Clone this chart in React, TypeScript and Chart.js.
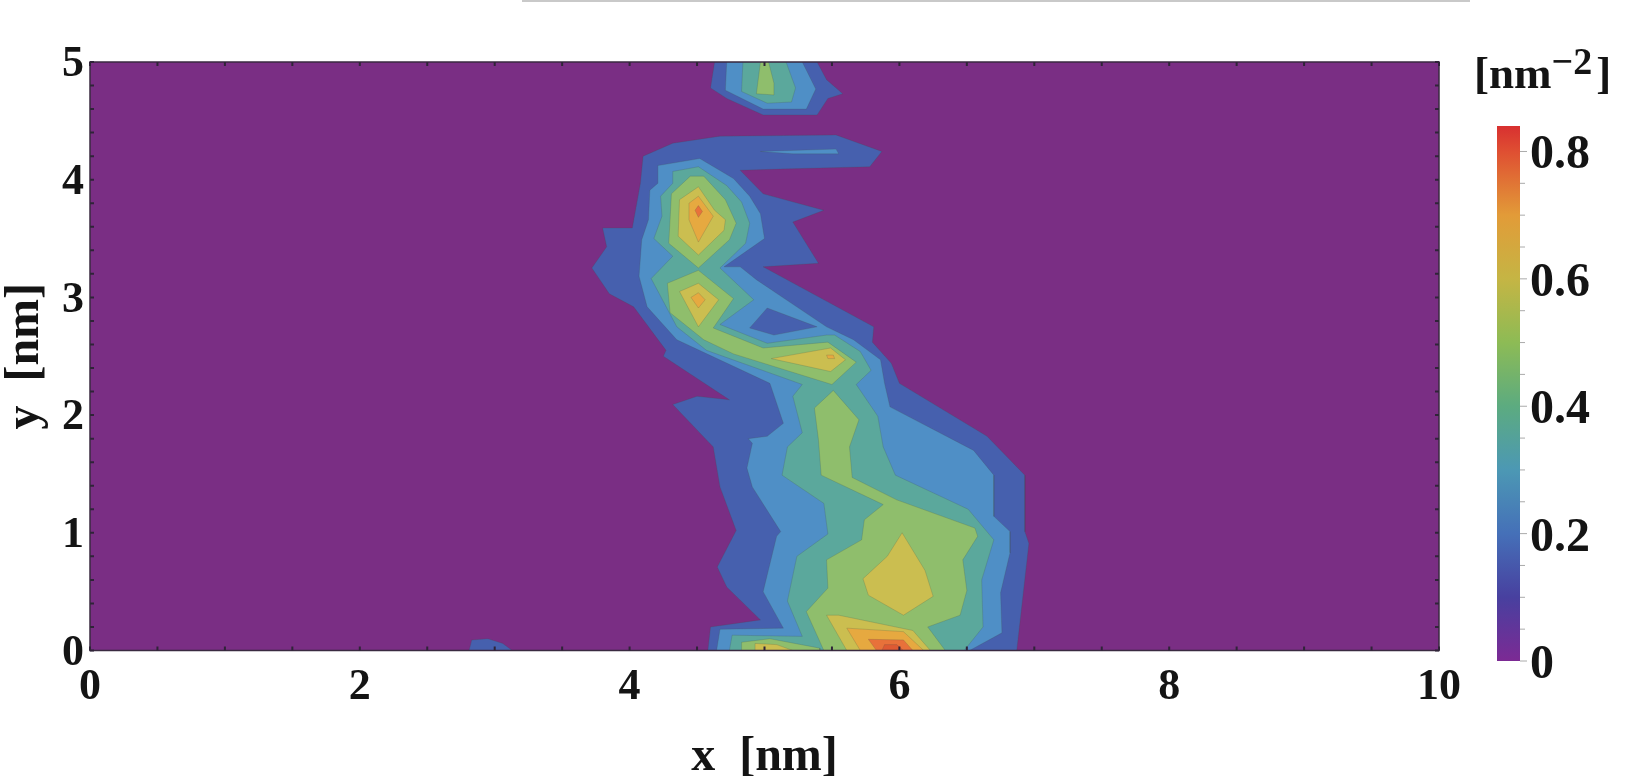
import React, { useEffect, useRef } from "react";
import { Chart, registerables } from "chart.js";

Chart.register(...registerables);

type P = [number, number];

const xTicksMinor = [0, 0.5, 1, 1.5, 2, 2.5, 3, 3.5, 4, 4.5, 5, 5.5, 6, 6.5, 7, 7.5, 8, 8.5, 9, 9.5, 10];
const yTicksMinor = [0, 0.2, 0.4, 0.6, 0.8, 1, 1.2, 1.4, 1.6, 1.8, 2, 2.2, 2.4, 2.6, 2.8, 3, 3.2, 3.4, 3.6, 3.8, 4, 4.2, 4.4, 4.6, 4.8, 5];
const barTicksMinor = [0, 0.05, 0.1, 0.15, 0.2, 0.25, 0.3, 0.35, 0.4, 0.45, 0.5, 0.55, 0.6, 0.65, 0.7, 0.75, 0.8];
const barMax = 0.84;

const levelColors = ["#7a2e84", "#4660ae", "#4f8fc6", "#5ba89c", "#8fbe6c", "#cbbe50", "#e6a940", "#e8713a", "#de5a33"];

const domain: P[] = [[0, 0], [10, 0], [10, 5], [0, 5]];

const l1Top: P[] = [[4.63, 5], [4.6, 4.78], [4.72, 4.69], [4.99, 4.55], [5.39, 4.55], [5.47, 4.69], [5.58, 4.73], [5.46, 4.85], [5.39, 5]];
const l1Speck: P[] = [[2.81, 0], [2.83, 0.09], [2.95, 0.1], [3.06, 0.06], [3.13, 0]];
const l1Main: P[] = [
  [4.32, 4.31], [4.67, 4.37], [5.53, 4.38], [5.87, 4.24], [5.78, 4.11], [5.11, 4.09], [4.82, 4.08], [4.99, 3.88], [5.44, 3.74], [5.21, 3.64], [5.4, 3.29], [4.99, 3.26],
  [5.81, 2.75], [5.8, 2.62], [5.94, 2.44], [6, 2.27], [6.65, 1.82], [6.93, 1.49], [6.93, 1.01], [6.96, 0.91], [6.87, 0],
  [4.58, 0], [4.6, 0.2], [4.97, 0.26], [4.72, 0.54], [4.65, 0.71], [4.79, 1.02], [4.67, 1.39], [4.62, 1.73], [4.32, 2.09], [4.5, 2.16], [4.74, 2.13], [4.25, 2.5],
  [4.27, 2.55], [4.03, 2.92], [3.85, 3.03], [3.72, 3.25], [3.83, 3.43], [3.8, 3.59], [4.02, 3.59], [4.08, 3.97], [4.1, 4.2],
];

const l2Top: P[] = [[4.72, 5], [4.71, 4.76], [4.99, 4.6], [5.31, 4.6], [5.38, 4.77], [5.28, 5]];
const l2Main: P[] = [
  [4.21, 4.12], [4.52, 4.18], [4.77, 4.01], [4.89, 3.86], [4.97, 3.71], [5, 3.5], [4.7, 3.26], [4.82, 3.26], [4.94, 3.15], [5.46, 2.75], [5.66, 2.64], [5.86, 2.47], [5.89, 2.27], [5.93, 2.07],
  [6.55, 1.7], [6.7, 1.49], [6.7, 1.14], [6.82, 1.01], [6.82, 0.83], [6.75, 0.49], [6.76, 0.15], [6.52, 0],
  [4.645, 0], [4.67, 0.18], [5.14, 0.19], [4.99, 0.5], [5.09, 0.97], [5.12, 1.01], [4.91, 1.39], [4.87, 1.55], [4.91, 1.76], [4.88, 1.8], [5.02, 1.82], [5.14, 1.93], [5.04, 2.27],
  [4.35, 2.64], [4.13, 2.92], [4.07, 3.18], [4.09, 3.49], [4.14, 3.66], [4.15, 3.91], [4.21, 3.97],
];
const l1Hole: P[] = [[5.02, 2.91], [5.39, 2.75], [5.07, 2.68], [4.89, 2.74]];
const l2Streak: P[] = [[4.97, 4.24], [5.53, 4.26], [5.55, 4.22], [5.21, 4.22]];

const l3Top: P[] = [[4.84, 5], [4.83, 4.75], [5.02, 4.65], [5.2, 4.66], [5.23, 4.78], [5.16, 5]];
const l3Main: P[] = [
  [4.32, 4.07], [4.51, 4.11], [4.72, 3.95], [4.83, 3.81], [4.89, 3.63], [4.86, 3.46], [4.67, 3.25], [4.92, 2.98], [4.67, 2.77], [5.02, 2.61], [5.46, 2.68], [5.52, 2.68], [5.71, 2.54], [5.79, 2.38], [5.68, 2.26], [5.84, 1.99], [5.88, 1.73], [5.97, 1.49],
  [6.51, 1.2], [6.7, 0.94], [6.61, 0.6], [6.62, 0.2], [6.48, 0],
  [4.74, 0], [4.76, 0.13], [5.28, 0.12], [5.17, 0.42], [5.24, 0.8], [5.47, 0.99], [5.44, 1.25], [5.13, 1.49], [5.17, 1.73], [5.28, 1.85], [5.21, 2.16], [5.28, 2.26],
  [4.57, 2.55], [4.35, 2.75], [4.16, 3.16], [4.32, 3.35], [4.18, 3.5], [4.24, 3.69], [4.23, 3.86], [4.32, 3.97],
];

const l4Top: P[] = [[4.97, 5], [4.94, 4.73], [5.07, 4.72], [5.07, 4.82], [5.03, 5]];
const l4Upper: P[] = [[4.31, 3.88], [4.45, 4.03], [4.55, 4.03], [4.71, 3.83], [4.79, 3.63], [4.74, 3.49], [4.51, 3.25], [4.29, 3.46], [4.3, 3.66]];
const l4Tail: P[] = [[4.51, 3.23], [4.77, 2.99], [4.62, 2.74], [4.99, 2.57], [5.47, 2.62], [5.68, 2.45], [5.5, 2.26], [4.77, 2.52], [4.55, 2.64], [4.3, 2.87], [4.28, 3.12]];
const l4Lower: P[] = [
  [5.37, 2.06], [5.51, 2.21], [5.7, 1.96], [5.63, 1.73], [5.65, 1.47], [5.98, 1.28], [6.56, 1.04], [6.58, 0.97], [6.47, 0.77], [6.5, 0.51], [6.45, 0.3], [6.21, 0.2], [6.34, 0],
  [5.44, 0], [5.31, 0.33], [5.47, 0.53], [5.46, 0.77], [5.72, 0.94], [5.74, 1.11], [5.88, 1.24], [5.42, 1.49], [5.4, 1.79],
];
const l4Strip: P[] = [[4.83, 0], [4.83, 0.07], [5.04, 0.1], [5.41, 0.02], [5.41, 0]];

const l5Upper: P[] = [[4.37, 3.83], [4.51, 3.94], [4.63, 3.74], [4.71, 3.66], [4.7, 3.57], [4.51, 3.36], [4.36, 3.52]];
const l5Second: P[] = [[4.37, 3.05], [4.51, 3.12], [4.66, 2.98], [4.51, 2.75]];
const l5Tail: P[] = [[5.05, 2.48], [5.49, 2.57], [5.6, 2.47], [5.49, 2.37]];
const l5Center: P[] = [[5.73, 0.61], [5.91, 0.8], [6.02, 1], [6.19, 0.68], [6.25, 0.46], [6.03, 0.3], [5.77, 0.47]];
const l5Peak: P[] = [[5.46, 0.3], [5.55, 0.3], [6.1, 0.17], [6.23, 0], [5.61, 0]];
const l5Strip: P[] = [[4.93, 0], [4.93, 0.06], [5.09, 0.05], [5.21, 0]];

const l6Upper: P[] = [[4.44, 3.8], [4.51, 3.86], [4.62, 3.69], [4.51, 3.47], [4.44, 3.66]];
const l6Second: P[] = [[4.455, 3], [4.51, 3.04], [4.56, 2.98], [4.51, 2.91]];
const l6Tail: P[] = [[5.46, 2.51], [5.51, 2.51], [5.52, 2.48], [5.47, 2.48]];
const l6Peak: P[] = [[5.61, 0.19], [6.03, 0.16], [6.18, 0], [5.71, 0]];

const l7Upper: P[] = [[4.485, 3.74], [4.51, 3.78], [4.54, 3.73], [4.51, 3.68]];
const l7Peak: P[] = [[5.77, 0.095], [6.03, 0.09], [6.1, 0], [5.83, 0]];
const l8Peak: P[] = [[5.87, 0], [5.89, 0.05], [5.98, 0.05], [6.03, 0]];

const contours: [number, P[]][] = [
  [0, domain],
  [1, l1Top], [1, l1Speck], [1, l1Main],
  [2, l2Top], [2, l2Main], [1, l1Hole], [2, l2Streak],
  [3, l3Top], [3, l3Main],
  [4, l4Top], [4, l4Upper], [4, l4Tail], [4, l4Lower], [4, l4Strip],
  [5, l5Upper], [5, l5Second], [5, l5Tail], [5, l5Center], [5, l5Peak], [5, l5Strip],
  [6, l6Upper], [6, l6Second], [6, l6Tail], [6, l6Peak],
  [7, l7Upper], [7, l7Peak],
  [8, l8Peak],
];

const barStops: [number, string][] = [
  [0, "#7c2a94"], [0.1, "#48409f"], [0.2, "#4570b8"], [0.3, "#4c98b4"], [0.4, "#5cab80"], [0.5, "#8dbb55"],
  [0.6, "#c5b544"], [0.7, "#e29b38"], [0.8, "#df4f32"], [0.84, "#d83030"],
];

const serif = "'Liberation Serif', serif";
const ink = "#141414";

const shiftYLabels = (by: number) => ({
  id: "shiftYLabels",
  afterLayout(chart: any) {
    const s = chart.scales.y;
    if (s.__shifted) return;
    s.__shifted = true;
    const orig = s.drawLabels;
    s.drawLabels = function (a: any) {
      chart.ctx.save();
      chart.ctx.translate(0, by);
      orig.call(s, a);
      chart.ctx.restore();
    };
  },
});

const frameTicks = {
  id: "frameTicks",
  afterDatasetsDraw(chart: any) {
    const { ctx, chartArea: a, scales } = chart;
    ctx.save();
    ctx.strokeStyle = "#3a2a40";
    ctx.lineWidth = 1.5;
    ctx.strokeRect(a.left, a.top, a.right - a.left, a.bottom - a.top);
    ctx.lineWidth = 2;
    ctx.strokeStyle = "#2f2438";
    ctx.beginPath();
    for (const v of xTicksMinor) {
      const x = scales.x.getPixelForValue(v);
      ctx.moveTo(x, a.bottom); ctx.lineTo(x, a.bottom - 4);
      ctx.moveTo(x, a.top); ctx.lineTo(x, a.top + 4);
    }
    for (const v of yTicksMinor) {
      const y = scales.y.getPixelForValue(v);
      ctx.moveTo(a.left, y); ctx.lineTo(a.left + 4, y);
      ctx.moveTo(a.right, y); ctx.lineTo(a.right - 4, y);
    }
    ctx.stroke();
    ctx.restore();
  },
};

const barDecor = {
  id: "barDecor",
  afterDatasetsDraw(chart: any) {
    const { ctx, chartArea: a, scales } = chart;
    ctx.save();
    ctx.strokeStyle = "#aaa";
    ctx.lineWidth = 1;
    ctx.beginPath();
    for (const v of barTicksMinor) {
      const y = scales.y.getPixelForValue(v);
      const major = Math.abs((v * 5) - Math.round(v * 5)) < 1e-6;
      ctx.moveTo(a.right, y); ctx.lineTo(a.right + (major ? 7 : 5), y);
    }
    ctx.stroke();
    ctx.fillStyle = ink;
    ctx.textAlign = "left";
    ctx.textBaseline = "alphabetic";
    let x = 14;
    ctx.font = `bold 45px ${serif}`;
    ctx.fillText("[nm", x, 88);
    x += ctx.measureText("[nm").width;
    ctx.font = `bold 38px ${serif}`;
    ctx.fillText("−2", x, 74);
    x += ctx.measureText("−2").width + 4;
    ctx.font = `bold 45px ${serif}`;
    ctx.fillText("]", x, 88);
    ctx.restore();
  },
};

export default function App() {
  const mainRef = useRef<HTMLCanvasElement>(null);
  const barRef = useRef<HTMLCanvasElement>(null);

  useEffect(() => {
    const main = new Chart(mainRef.current!, {
      type: "scatter",
      data: {
        // Chart.js paints dataset 0 last, so the highest contour level goes first.
        datasets: contours.map(([level, pts], i) => ({
          label: `level ${level} #${i}`,
          data: [...pts, pts[0]].map(([x, y]) => ({ x, y })),
          showLine: true,
          fill: "shape",
          backgroundColor: levelColors[level],
          borderColor: level === 0 ? levelColors[0] : "rgba(70,80,70,0.2)",
          borderWidth: level === 0 ? 0 : 1,
          pointRadius: 0,
          tension: 0,
        })).reverse(),
      },
      plugins: [frameTicks, shiftYLabels(3)],
      options: {
        animation: false,
        responsive: false,
        layout: { padding: { left: 0, top: 62, right: 206, bottom: 0 } },
        plugins: { legend: { display: false }, tooltip: { enabled: false } },
        scales: {
          x: {
            type: "linear", min: 0, max: 10,
            grid: { display: false, drawTicks: false }, border: { display: false },
            afterFit: (s: any) => { s.height = 125.5; },
            ticks: { stepSize: 2, maxRotation: 0, autoSkip: false, padding: 11, color: ink, font: { family: serif, weight: "bold", size: 44 } },
            title: { display: true, text: "x  [nm]", color: ink, padding: 0, font: { family: serif, weight: "bold", size: 48, lineHeight: 0.75 } },
          },
          y: {
            type: "linear", min: 0, max: 5,
            grid: { display: false, drawTicks: false }, border: { display: false },
            afterFit: (s: any) => { s.width = 90; },
            ticks: { stepSize: 1, autoSkip: false, padding: 6, color: ink, font: { family: serif, weight: "bold", size: 44 } },
            title: { display: true, text: "y  [nm]", color: ink, padding: { top: 2, bottom: 0 }, font: { family: serif, weight: "bold", size: 48, lineHeight: 1 } },
          },
        },
      },
    } as any);

    const bar = new Chart(barRef.current!, {
      type: "bar",
      data: {
        labels: ["density"],
        datasets: [{
          data: [barMax],
          barPercentage: 1,
          categoryPercentage: 1,
          backgroundColor: (c: any) => {
            const { chart } = c;
            if (!chart.chartArea) return barStops[0][1];
            const y = chart.scales.y;
            const g = chart.ctx.createLinearGradient(0, y.getPixelForValue(0), 0, y.getPixelForValue(barMax));
            for (const [v, col] of barStops) g.addColorStop(v / barMax, col);
            return g;
          },
        }],
      },
      plugins: [barDecor, shiftYLabels(4.5)],
      options: {
        animation: false,
        responsive: false,
        layout: { padding: { left: 37, top: 126, right: 0, bottom: 115 } },
        plugins: { legend: { display: false }, tooltip: { enabled: false } },
        scales: {
          x: { display: false },
          y: {
            position: "right", min: 0, max: barMax,
            grid: { display: false, drawTicks: false }, border: { display: false },
            afterFit: (s: any) => { s.width = 125; },
            ticks: {
              stepSize: 0.2, includeBounds: false, padding: 10, color: ink,
              font: { family: serif, weight: "bold", size: 48 },
              callback: (v: any) => String(Number(Number(v).toFixed(1))),
            },
          },
        },
      },
    } as any);

    return () => { main.destroy(); bar.destroy(); };
  }, []);

  return (
    <div style={{ position: "fixed", inset: 0, background: "#fff", overflow: "hidden" }}>
      <div style={{ position: "absolute", left: 522, top: 0, width: 948, height: 2, background: "#c9c9c9" }} />
      <canvas ref={mainRef} width={1645} height={776} style={{ position: "absolute", left: 0, top: 0, filter: "blur(0.5px)" }} />
      <canvas ref={barRef} width={185} height={776} style={{ position: "absolute", left: 1460, top: 0, filter: "blur(0.5px)" }} />
    </div>
  );
}
